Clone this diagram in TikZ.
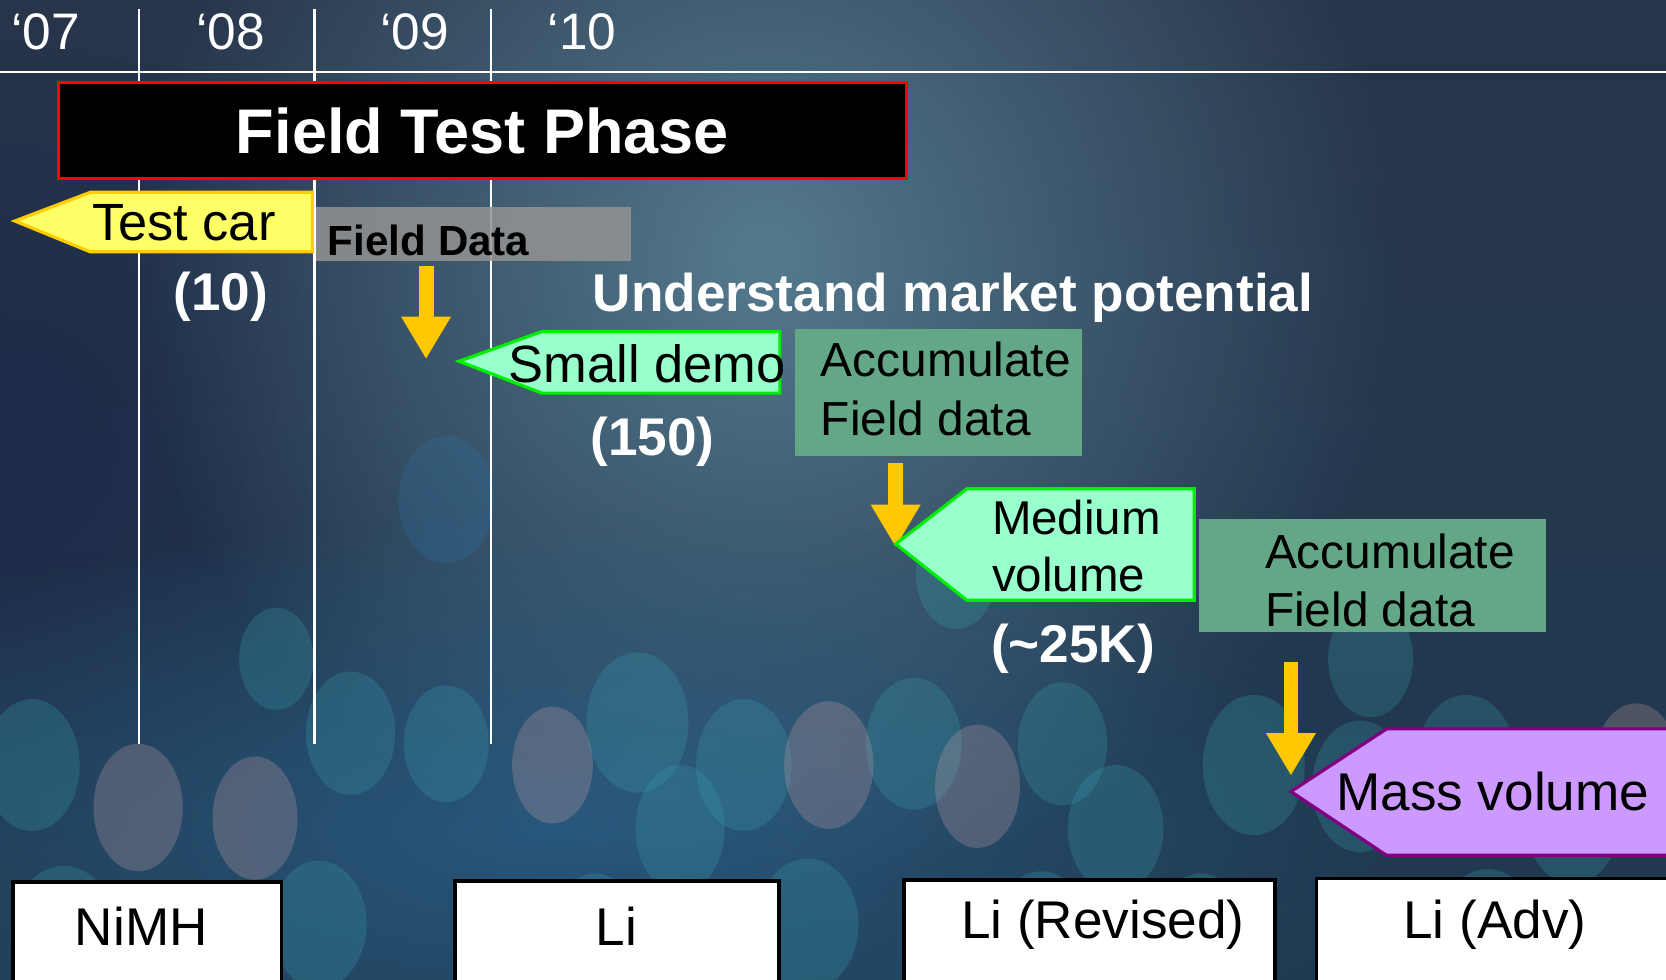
\documentclass[tikz,border=0pt]{standalone}
\usepackage{fontspec}
\setmainfont{Liberation Sans}
\usetikzlibrary{arrows.meta,fadings}
\tikzfading[name=glow, inner color=transparent!0, outer color=transparent!100]
\definecolor{bgtop}{HTML}{27344A}
\definecolor{bgbottom}{HTML}{1F3A50}
\definecolor{bglight}{HTML}{557A8E}
\definecolor{bgnavy}{HTML}{1C2748}
\definecolor{bokeh}{HTML}{3AA3B0}
\definecolor{bokehblue}{HTML}{2E6FA0}
\definecolor{pinkish}{HTML}{D8A8A8}
\definecolor{tagyellow}{HTML}{FFFF66}
\definecolor{tagyellowline}{HTML}{FFCC00}
\definecolor{tagmint}{HTML}{99FFCC}
\definecolor{tagmintline}{HTML}{00EE00}
\definecolor{taglilac}{HTML}{CC99FF}
\definecolor{taglilacline}{HTML}{800080}
\definecolor{accum}{HTML}{63A786}
\definecolor{feedyellow}{HTML}{FFC800}
\begin{document}
\begin{tikzpicture}[x=0.3pt, y=-0.3pt,
  yearlabel/.style={text=white, font=\fontsize{14.5}{17}\selectfont},
  gridline/.style={white, line width=0.6pt},
  count/.style={text=white, font=\bfseries\fontsize{15}{18}\selectfont},
  tagtext/.style={font=\fontsize{14.8}{18}\selectfont, inner sep=0pt},
  accumtext/.style={font=\fontsize{13.5}{16.5}\selectfont, align=left, anchor=west, inner sep=0pt},
  feed/.style={feedyellow, line width=4.2pt, -{Triangle[width=13.2pt, length=12pt]}},
  chem/.style={draw=black, line width=1pt, fill=white},
  chemtext/.style={font=\fontsize{15}{18}\selectfont}]
\useasboundingbox (0,0) rectangle (1568,922);
\clip (0,0) rectangle (1568,922);
% background
\shade[top color=bgtop, bottom color=bgbottom] (0,0) rectangle (1568,922);
\fill[bgnavy, path fading=glow, opacity=0.8] (0,420) circle (380);
\fill[bglight, path fading=glow] (720,240) circle (600);
\fill[bokehblue, path fading=glow, opacity=0.55] (520,780) ellipse [x radius=800, y radius=300];
\foreach \cx/\cy/\rx/\ry in {30/720/45/62, 330/690/42/58, 420/700/40/55, 600/680/48/66,
  640/780/42/60, 700/720/45/62, 860/700/45/62, 1000/700/42/58, 1050/780/45/60,
  1180/720/48/66, 1280/740/45/62, 1380/720/48/66, 1480/770/45/62, 60/880/50/65,
  300/870/45/60, 560/880/42/58, 760/870/48/62, 980/880/45/60, 1130/880/42/58,
  1400/880/48/62, 260/620/35/48, 1290/620/40/55, 900/540/38/52}
  \fill[bokeh, opacity=0.25] (\cx,\cy) ellipse [x radius=\rx, y radius=\ry];
\fill[bokehblue, opacity=0.3] (420,470) ellipse [x radius=45, y radius=60];
\foreach \cx/\cy/\rx/\ry in {130/760/42/60, 240/770/40/58, 520/720/38/55, 780/720/42/60,
  920/740/40/58, 1540/720/40/58}
  \fill[pinkish, opacity=0.25] (\cx,\cy) ellipse [x radius=\rx, y radius=\ry];
% time axis
\draw[gridline] (0,68) -- (1568,68);
\draw[gridline] (131,8) -- (131,700);
\draw[gridline] (296,8) -- (296,700);
\draw[gridline] (462,8) -- (462,700);
\node[yearlabel] (y07) at (43,30) {`07};
\node[yearlabel] (y08) at (217,30) {`08};
\node[yearlabel] (y09) at (390,30) {`09};
\node[yearlabel] (y10) at (548,30) {`10};
% phase banner
\node[draw=red, line width=0.9pt, fill=black, text=white, font=\bfseries\fontsize{17.8}{21}\selectfont,
  minimum width=239.4pt, minimum height=27pt, inner sep=0pt] (phase) at (454,123) {Field Test Phase};
% test car
\draw[fill=tagyellow, draw=tagyellowline, line width=0.9pt] (14,208) -- (85,181) -- (294,181) -- (294,237) -- (85,237) -- cycle;
\node[tagtext] (testcar) at (173,210) {Test car};
\node[count] (n10) at (208,279) {(10)};
\fill[gray!85!white, opacity=0.85] (297,195) rectangle (594,246);
\node[font=\bfseries\fontsize{11.9}{14}\selectfont, anchor=west, inner sep=0pt] (fdata) at (308,226) {Field Data};
\coordinate (feed1a) at (401,250);
\coordinate (feed1b) at (401,338);
\draw[feed] (feed1a) -- (feed1b);
\node[count] (market) at (897,280) {Understand market potential};
% small demo
\draw[fill=tagmint, draw=tagmintline, line width=0.9pt] (432,340) -- (510,312) -- (734,312) -- (734,370) -- (510,370) -- cycle;
\node[tagtext] (demo) at (609,342) {Small demo};
\node[count] (n150) at (614,416) {(150)};
\fill[accum] (748,310) rectangle (1018,429);
\node[accumtext] (acc1) at (772,366) {Accumulate\\Field data};
\coordinate (feed2a) at (843,436);
\coordinate (feed2b) at (843,515);
\draw[feed] (feed2a) -- (feed2b);
% medium volume
\draw[fill=tagmint, draw=tagmintline, line width=0.9pt] (843,512) -- (910,460) -- (1124,460) -- (1124,565) -- (910,565) -- cycle;
\node[accumtext, font=\fontsize{13.4}{16}\selectfont] (medium) at (933,514) {Medium\\volume};
\node[count] (n25k) at (1010,611) {(\textasciitilde25K)};
\fill[accum] (1128,488) rectangle (1455,595);
\node[accumtext] (acc2) at (1190,546) {Accumulate\\Field data};
\coordinate (feed3a) at (1215,623);
\coordinate (feed3b) at (1215,730);
\draw[feed] (feed3a) -- (feed3b);
% mass volume
\draw[fill=taglilac, draw=taglilacline, line width=0.9pt] (1215,745) -- (1305,686) -- (1580,686) -- (1580,805) -- (1305,805) -- cycle;
\node[tagtext, font=\fontsize{15}{18}\selectfont] (mass) at (1405,745) {Mass volume};
% chemistries
\draw[chem] (12,830) rectangle (265,950);
\node[chemtext] (nimh) at (133,872) {NiMH};
\draw[chem] (428,829) rectangle (733,950);
\node[chemtext] (li) at (580,872) {Li};
\draw[chem] (851,828) rectangle (1200,950);
\node[chemtext] (lirev) at (1038,870) {Li (Revised)};
\draw[chem] (1239,827) rectangle (1590,950);
\node[chemtext] (liadv) at (1407,870) {Li (Adv)};
\end{tikzpicture}
\end{document}
